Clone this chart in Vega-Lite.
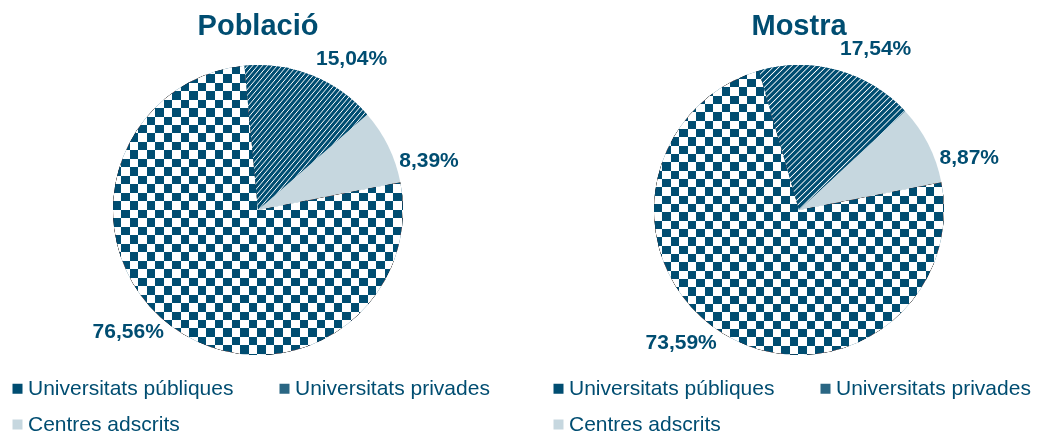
{
  "$schema": "https://vega.github.io/schema/vega-lite/v6.json",
  "padding": {"left": 7, "top": 12, "right": 0, "bottom": 0},
  "config": {
    "view": {"stroke": null},
    "font": "Liberation Sans",
    "locale": {"number": {"decimal": ",", "thousands": ".", "grouping": [3], "currency": ["", " €"]}}
  },
  "data": {"values": [
    {"pie": "Població", "cat": "Universitats públiques", "value": 0.7656},
    {"pie": "Població", "cat": "Universitats privades", "value": 0.1504},
    {"pie": "Població", "cat": "Centres adscrits", "value": 0.0839},
    {"pie": "Mostra", "cat": "Universitats públiques", "value": 0.7359},
    {"pie": "Mostra", "cat": "Universitats privades", "value": 0.1754},
    {"pie": "Mostra", "cat": "Centres adscrits", "value": 0.0887}
  ]},
  "facet": {"column": {"field": "pie", "type": "nominal", "sort": ["Població", "Mostra"], "title": null,
    "header": {"labelFontSize": 29, "labelFontWeight": "bold", "labelColor": "#004d71", "labelFont": "Liberation Sans", "labelPadding": 24}}},
  "spacing": 71,
  "bounds": "flush",
  "resolve": {"scale": {"color": "independent"}, "legend": {"color": "independent"}},
  "spec": {
    "width": 470,
    "height": 290,
    "resolve": {"scale": {"theta": "independent"}},
    "layer": [
      {
        "mark": {"type": "arc", "outerRadius": 145},
        "encoding": {
          "theta": {"field": "value", "type": "quantitative", "stack": true, "scale": {"range": [1.3788, 7.662]}},
          "order": {"field": "cat", "sort": "descending"},
          "color": {"field": "cat", "type": "nominal",
            "scale": {"domain": ["Universitats públiques", "Universitats privades", "Centres adscrits"], "range": ["#004d71", "#2a6683", "#c6d7df"]},
            "legend": {"orient": "none", "legendX": -16, "legendY": 313, "direction": "horizontal", "columns": 2, "title": null,
              "labelFontSize": 21, "labelColor": "#004d71", "labelFont": "Liberation Sans", "symbolType": "square", "symbolSize": 100,
              "symbolStrokeWidth": 0, "columnPadding": 40, "rowPadding": 14, "labelOffset": 0, "padding": 0, "labelLimit": 0}}
        }
      },
      {
        "mark": {"type": "arc", "outerRadius": 145},
        "encoding": {
          "theta": {"field": "value", "type": "quantitative", "stack": true, "scale": {"range": [1.3788, 7.662]}},
          "order": {"field": "cat", "sort": "descending"},
          "fill": {"condition": {"test": "datum.cat === 'Universitats públiques'", "value": {"gradient": "linear", "x1": 0, "y1": 0, "x2": 1.172, "y2": 0, "stops": [{"offset":0,"color":"#000"},{"offset":0.025,"color":"#000"},{"offset":0.025,"color":"#fff"},{"offset":0.05,"color":"#fff"},{"offset":0.05,"color":"#000"},{"offset":0.075,"color":"#000"},{"offset":0.075,"color":"#fff"},{"offset":0.1,"color":"#fff"},{"offset":0.1,"color":"#000"},{"offset":0.125,"color":"#000"},{"offset":0.125,"color":"#fff"},{"offset":0.15,"color":"#fff"},{"offset":0.15,"color":"#000"},{"offset":0.175,"color":"#000"},{"offset":0.175,"color":"#fff"},{"offset":0.2,"color":"#fff"},{"offset":0.2,"color":"#000"},{"offset":0.225,"color":"#000"},{"offset":0.225,"color":"#fff"},{"offset":0.25,"color":"#fff"},{"offset":0.25,"color":"#000"},{"offset":0.275,"color":"#000"},{"offset":0.275,"color":"#fff"},{"offset":0.3,"color":"#fff"},{"offset":0.3,"color":"#000"},{"offset":0.325,"color":"#000"},{"offset":0.325,"color":"#fff"},{"offset":0.35,"color":"#fff"},{"offset":0.35,"color":"#000"},{"offset":0.375,"color":"#000"},{"offset":0.375,"color":"#fff"},{"offset":0.4,"color":"#fff"},{"offset":0.4,"color":"#000"},{"offset":0.425,"color":"#000"},{"offset":0.425,"color":"#fff"},{"offset":0.45,"color":"#fff"},{"offset":0.45,"color":"#000"},{"offset":0.475,"color":"#000"},{"offset":0.475,"color":"#fff"},{"offset":0.5,"color":"#fff"},{"offset":0.5,"color":"#000"},{"offset":0.525,"color":"#000"},{"offset":0.525,"color":"#fff"},{"offset":0.55,"color":"#fff"},{"offset":0.55,"color":"#000"},{"offset":0.575,"color":"#000"},{"offset":0.575,"color":"#fff"},{"offset":0.6,"color":"#fff"},{"offset":0.6,"color":"#000"},{"offset":0.625,"color":"#000"},{"offset":0.625,"color":"#fff"},{"offset":0.65,"color":"#fff"},{"offset":0.65,"color":"#000"},{"offset":0.675,"color":"#000"},{"offset":0.675,"color":"#fff"},{"offset":0.7,"color":"#fff"},{"offset":0.7,"color":"#000"},{"offset":0.725,"color":"#000"},{"offset":0.725,"color":"#fff"},{"offset":0.75,"color":"#fff"},{"offset":0.75,"color":"#000"},{"offset":0.775,"color":"#000"},{"offset":0.775,"color":"#fff"},{"offset":0.8,"color":"#fff"},{"offset":0.8,"color":"#000"},{"offset":0.825,"color":"#000"},{"offset":0.825,"color":"#fff"},{"offset":0.85,"color":"#fff"},{"offset":0.85,"color":"#000"},{"offset":0.875,"color":"#000"},{"offset":0.875,"color":"#fff"},{"offset":0.9,"color":"#fff"},{"offset":0.9,"color":"#000"},{"offset":0.925,"color":"#000"},{"offset":0.925,"color":"#fff"},{"offset":0.95,"color":"#fff"},{"offset":0.95,"color":"#000"},{"offset":0.975,"color":"#000"},{"offset":0.975,"color":"#fff"},{"offset":1,"color":"#fff"}]}}, "value": "transparent"}
        }
      },
      {
        "mark": {"type": "arc", "outerRadius": 145, "blend": "difference"},
        "encoding": {
          "theta": {"field": "value", "type": "quantitative", "stack": true, "scale": {"range": [1.3788, 7.662]}},
          "order": {"field": "cat", "sort": "descending"},
          "fill": {"condition": {"test": "datum.cat === 'Universitats públiques'", "value": {"gradient": "linear", "x1": 0, "y1": 0, "x2": 0, "y2": 1.172, "stops": [{"offset":0,"color":"#000"},{"offset":0.025,"color":"#000"},{"offset":0.025,"color":"#fff"},{"offset":0.05,"color":"#fff"},{"offset":0.05,"color":"#000"},{"offset":0.075,"color":"#000"},{"offset":0.075,"color":"#fff"},{"offset":0.1,"color":"#fff"},{"offset":0.1,"color":"#000"},{"offset":0.125,"color":"#000"},{"offset":0.125,"color":"#fff"},{"offset":0.15,"color":"#fff"},{"offset":0.15,"color":"#000"},{"offset":0.175,"color":"#000"},{"offset":0.175,"color":"#fff"},{"offset":0.2,"color":"#fff"},{"offset":0.2,"color":"#000"},{"offset":0.225,"color":"#000"},{"offset":0.225,"color":"#fff"},{"offset":0.25,"color":"#fff"},{"offset":0.25,"color":"#000"},{"offset":0.275,"color":"#000"},{"offset":0.275,"color":"#fff"},{"offset":0.3,"color":"#fff"},{"offset":0.3,"color":"#000"},{"offset":0.325,"color":"#000"},{"offset":0.325,"color":"#fff"},{"offset":0.35,"color":"#fff"},{"offset":0.35,"color":"#000"},{"offset":0.375,"color":"#000"},{"offset":0.375,"color":"#fff"},{"offset":0.4,"color":"#fff"},{"offset":0.4,"color":"#000"},{"offset":0.425,"color":"#000"},{"offset":0.425,"color":"#fff"},{"offset":0.45,"color":"#fff"},{"offset":0.45,"color":"#000"},{"offset":0.475,"color":"#000"},{"offset":0.475,"color":"#fff"},{"offset":0.5,"color":"#fff"},{"offset":0.5,"color":"#000"},{"offset":0.525,"color":"#000"},{"offset":0.525,"color":"#fff"},{"offset":0.55,"color":"#fff"},{"offset":0.55,"color":"#000"},{"offset":0.575,"color":"#000"},{"offset":0.575,"color":"#fff"},{"offset":0.6,"color":"#fff"},{"offset":0.6,"color":"#000"},{"offset":0.625,"color":"#000"},{"offset":0.625,"color":"#fff"},{"offset":0.65,"color":"#fff"},{"offset":0.65,"color":"#000"},{"offset":0.675,"color":"#000"},{"offset":0.675,"color":"#fff"},{"offset":0.7,"color":"#fff"},{"offset":0.7,"color":"#000"},{"offset":0.725,"color":"#000"},{"offset":0.725,"color":"#fff"},{"offset":0.75,"color":"#fff"},{"offset":0.75,"color":"#000"},{"offset":0.775,"color":"#000"},{"offset":0.775,"color":"#fff"},{"offset":0.8,"color":"#fff"},{"offset":0.8,"color":"#000"},{"offset":0.825,"color":"#000"},{"offset":0.825,"color":"#fff"},{"offset":0.85,"color":"#fff"},{"offset":0.85,"color":"#000"},{"offset":0.875,"color":"#000"},{"offset":0.875,"color":"#fff"},{"offset":0.9,"color":"#fff"},{"offset":0.9,"color":"#000"},{"offset":0.925,"color":"#000"},{"offset":0.925,"color":"#fff"},{"offset":0.95,"color":"#fff"},{"offset":0.95,"color":"#000"},{"offset":0.975,"color":"#000"},{"offset":0.975,"color":"#fff"},{"offset":1,"color":"#fff"}]}}, "value": "transparent"}
        }
      },
      {
        "mark": {"type": "arc", "outerRadius": 145, "blend": "lighten"},
        "encoding": {
          "theta": {"field": "value", "type": "quantitative", "stack": true, "scale": {"range": [1.3788, 7.662]}},
          "order": {"field": "cat", "sort": "descending"},
          "fill": {"condition": {"test": "datum.cat === 'Universitats públiques'", "value": "#004d71"}, "value": "transparent"}
        }
      },
      {
        "mark": {"type": "arc", "outerRadius": 145},
        "encoding": {
          "theta": {"field": "value", "type": "quantitative", "stack": true, "scale": {"range": [1.3788, 7.662]}},
          "order": {"field": "cat", "sort": "descending"},
          "fill": {"condition": {"test": "datum.cat === 'Universitats privades'", "value": {"gradient": "linear", "x1": 0, "y1": 0, "x2": 0.8, "y2": 0.8, "stops": [{"offset":0,"color":"#004d71"},{"offset":0.015,"color":"#004d71"},{"offset":0.02,"color":"#fff"},{"offset":0.025,"color":"#004d71"},{"offset":0.04,"color":"#004d71"},{"offset":0.045,"color":"#fff"},{"offset":0.05,"color":"#004d71"},{"offset":0.065,"color":"#004d71"},{"offset":0.07,"color":"#fff"},{"offset":0.075,"color":"#004d71"},{"offset":0.09,"color":"#004d71"},{"offset":0.095,"color":"#fff"},{"offset":0.1,"color":"#004d71"},{"offset":0.115,"color":"#004d71"},{"offset":0.12,"color":"#fff"},{"offset":0.125,"color":"#004d71"},{"offset":0.14,"color":"#004d71"},{"offset":0.145,"color":"#fff"},{"offset":0.15,"color":"#004d71"},{"offset":0.165,"color":"#004d71"},{"offset":0.17,"color":"#fff"},{"offset":0.175,"color":"#004d71"},{"offset":0.19,"color":"#004d71"},{"offset":0.195,"color":"#fff"},{"offset":0.2,"color":"#004d71"},{"offset":0.215,"color":"#004d71"},{"offset":0.22,"color":"#fff"},{"offset":0.225,"color":"#004d71"},{"offset":0.24,"color":"#004d71"},{"offset":0.245,"color":"#fff"},{"offset":0.25,"color":"#004d71"},{"offset":0.265,"color":"#004d71"},{"offset":0.27,"color":"#fff"},{"offset":0.275,"color":"#004d71"},{"offset":0.29,"color":"#004d71"},{"offset":0.295,"color":"#fff"},{"offset":0.3,"color":"#004d71"},{"offset":0.315,"color":"#004d71"},{"offset":0.32,"color":"#fff"},{"offset":0.325,"color":"#004d71"},{"offset":0.34,"color":"#004d71"},{"offset":0.345,"color":"#fff"},{"offset":0.35,"color":"#004d71"},{"offset":0.365,"color":"#004d71"},{"offset":0.37,"color":"#fff"},{"offset":0.375,"color":"#004d71"},{"offset":0.39,"color":"#004d71"},{"offset":0.395,"color":"#fff"},{"offset":0.4,"color":"#004d71"},{"offset":0.415,"color":"#004d71"},{"offset":0.42,"color":"#fff"},{"offset":0.425,"color":"#004d71"},{"offset":0.44,"color":"#004d71"},{"offset":0.445,"color":"#fff"},{"offset":0.45,"color":"#004d71"},{"offset":0.465,"color":"#004d71"},{"offset":0.47,"color":"#fff"},{"offset":0.475,"color":"#004d71"},{"offset":0.49,"color":"#004d71"},{"offset":0.495,"color":"#fff"},{"offset":0.5,"color":"#004d71"},{"offset":0.515,"color":"#004d71"},{"offset":0.52,"color":"#fff"},{"offset":0.525,"color":"#004d71"},{"offset":0.54,"color":"#004d71"},{"offset":0.545,"color":"#fff"},{"offset":0.55,"color":"#004d71"},{"offset":0.565,"color":"#004d71"},{"offset":0.57,"color":"#fff"},{"offset":0.575,"color":"#004d71"},{"offset":0.59,"color":"#004d71"},{"offset":0.595,"color":"#fff"},{"offset":0.6,"color":"#004d71"},{"offset":0.615,"color":"#004d71"},{"offset":0.62,"color":"#fff"},{"offset":0.625,"color":"#004d71"},{"offset":0.64,"color":"#004d71"},{"offset":0.645,"color":"#fff"},{"offset":0.65,"color":"#004d71"},{"offset":0.665,"color":"#004d71"},{"offset":0.67,"color":"#fff"},{"offset":0.675,"color":"#004d71"},{"offset":0.69,"color":"#004d71"},{"offset":0.695,"color":"#fff"},{"offset":0.7,"color":"#004d71"},{"offset":0.715,"color":"#004d71"},{"offset":0.72,"color":"#fff"},{"offset":0.725,"color":"#004d71"},{"offset":0.74,"color":"#004d71"},{"offset":0.745,"color":"#fff"},{"offset":0.75,"color":"#004d71"},{"offset":0.765,"color":"#004d71"},{"offset":0.77,"color":"#fff"},{"offset":0.775,"color":"#004d71"},{"offset":0.79,"color":"#004d71"},{"offset":0.795,"color":"#fff"},{"offset":0.8,"color":"#004d71"},{"offset":0.815,"color":"#004d71"},{"offset":0.82,"color":"#fff"},{"offset":0.825,"color":"#004d71"},{"offset":0.84,"color":"#004d71"},{"offset":0.845,"color":"#fff"},{"offset":0.85,"color":"#004d71"},{"offset":0.865,"color":"#004d71"},{"offset":0.87,"color":"#fff"},{"offset":0.875,"color":"#004d71"},{"offset":0.89,"color":"#004d71"},{"offset":0.895,"color":"#fff"},{"offset":0.9,"color":"#004d71"},{"offset":0.915,"color":"#004d71"},{"offset":0.92,"color":"#fff"},{"offset":0.925,"color":"#004d71"},{"offset":0.94,"color":"#004d71"},{"offset":0.945,"color":"#fff"},{"offset":0.95,"color":"#004d71"},{"offset":0.965,"color":"#004d71"},{"offset":0.97,"color":"#fff"},{"offset":0.975,"color":"#004d71"},{"offset":0.99,"color":"#004d71"},{"offset":0.995,"color":"#fff"},{"offset":1,"color":"#004d71"}]}}, "value": "transparent"}
        }
      },
      {
        "mark": {"type": "text", "fontSize": 21, "fontWeight": "bold", "fill": "#004d71", "font": "Liberation Sans", "align": "center", "baseline": "middle"},
        "encoding": {
          "theta": {"field": "value", "type": "quantitative", "stack": true, "scale": {"range": [1.5533, 7.8365]}},
          "order": {"field": "cat", "sort": "descending"},
          "radius": {"value": 178},
          "text": {"field": "value", "type": "quantitative", "format": ".2%"}
        }
      }
    ]
  }
}
